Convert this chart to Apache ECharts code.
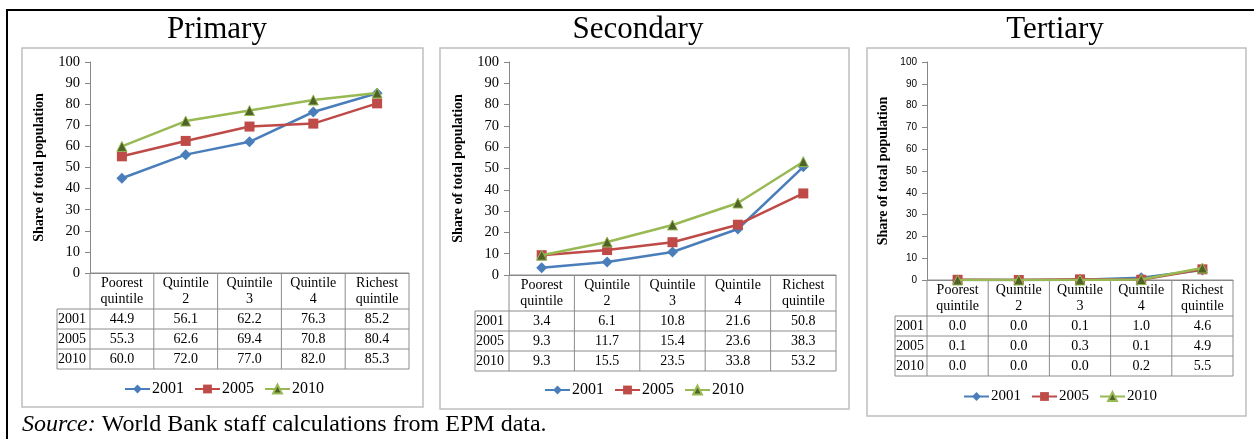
<!DOCTYPE html>
<html><head><meta charset="utf-8">
<script src="https://cdn.jsdelivr.net/npm/echarts@6/dist/echarts.min.js"></script>
<style>html,body{margin:0;padding:0;background:#fff}#c{width:1254px;height:439px}</style>
</head><body><div id="c"></div>
<script>
// ---- data ----
const categories = ['Poorest\nquintile', 'Quintile\n2', 'Quintile\n3', 'Quintile\n4', 'Richest\nquintile'];
const years = ['2001', '2005', '2010'];
const panelTitles = ['Primary', 'Secondary', 'Tertiary'];
const primary2001 = [44.9, 56.1, 62.2, 76.3, 85.2];
const primary2005 = [55.3, 62.6, 69.4, 70.8, 80.4];
const primary2010 = [60.0, 72.0, 77.0, 82.0, 85.3];
const secondary2001 = [3.4, 6.1, 10.8, 21.6, 50.8];
const secondary2005 = [9.3, 11.7, 15.4, 23.6, 38.3];
const secondary2010 = [9.3, 15.5, 23.5, 33.8, 53.2];
const tertiary2001 = [0.0, 0.0, 0.1, 1.0, 4.6];
const tertiary2005 = [0.1, 0.0, 0.3, 0.1, 4.9];
const tertiary2010 = [0.0, 0.0, 0.0, 0.2, 5.5];
const yAxisName = 'Share of total population';
const yMin = 0, yMax = 100, yStep = 10;
const sourceLabel = 'Source:';
const sourceText = 'World Bank staff calculations from EPM data.';

const panelData = [
  [primary2001, primary2005, primary2010],
  [secondary2001, secondary2005, secondary2010],
  [tertiary2001, tertiary2005, tertiary2010]
];

// ---- layout / style ----
const SERIF = '"Liberation Serif","Times New Roman",serif';
const SANS = '"Liberation Sans",Arial,sans-serif';
const grids = [
  {left: 90, top: 62, width: 319, height: 211},
  {left: 509, top: 62, width: 327, height: 213},
  {left: 927, top: 62, width: 306, height: 218}
];
const boxes = [[22, 48, 423, 407], [440, 48, 849, 409], [867, 48, 1246, 416]];
const titleX = [217, 638, 1055];
const legendPos = [[124, 381], [544, 382], [963, 389]];
const nameGaps = [44, 44, 37];
const rowLabelW = [33, 34, 32];
const tickFont = [{fontFamily: SERIF, fontSize: 14.5}, {fontFamily: SERIF, fontSize: 14.5}, {fontFamily: SANS, fontSize: 10}];
const lineColors = ['#4a7ebb', '#be4b48', '#98b954'];
const markerColors = ['#4a7ebb', '#be4b48', '#4f6228'];
const symbols = ['diamond', 'rect', 'triangle'];
const symbolSizes = [11, 10, 10];
const AXIS = '#868686';
const TABLE = '#8c8c8c';
const TF = '14px ' + SERIF;

const chart = echarts.init(document.getElementById('c'), null, {renderer: 'canvas'});

const xAxes = [], yAxes = [], series = [], legends = [];
grids.forEach((g, i) => {
  xAxes.push({
    type: 'category', gridIndex: i, data: categories, boundaryGap: true,
    axisLine: {show: true, lineStyle: {color: AXIS, width: 1}},
    axisTick: {show: false}, axisLabel: {show: false}, splitLine: {show: false}
  });
  yAxes.push({
    type: 'value', gridIndex: i, min: yMin, max: yMax, interval: yStep,
    name: yAxisName, nameLocation: 'middle', nameGap: nameGaps[i], nameRotate: 90,
    nameTextStyle: {fontFamily: SERIF, fontSize: 14, fontWeight: 'bold', color: '#000'},
    axisLine: {show: true, lineStyle: {color: AXIS, width: 1}},
    axisTick: {show: true, length: 5, lineStyle: {color: AXIS}},
    axisLabel: Object.assign({color: '#000', margin: 10}, tickFont[i]),
    splitLine: {show: false}
  });
  years.forEach((y, k) => {
    series.push({
      name: y, type: 'line', xAxisIndex: i, yAxisIndex: i,
      data: panelData[i][k],
      symbol: symbols[k], symbolSize: symbolSizes[k],
      lineStyle: {color: lineColors[k], width: 2.5},
      itemStyle: {color: markerColors[k], borderColor: lineColors[k], borderWidth: k === 2 ? 1 : 0},
      emphasis: {disabled: true}, animation: false, z: 3 + k
    });
  });
  legends.push({
    data: years, left: legendPos[i][0], top: legendPos[i][1], orient: 'horizontal', padding: 0,
    itemWidth: 25, itemHeight: 11, itemGap: 10,
    textStyle: {fontFamily: SERIF, fontSize: i === 2 ? 15 : 16, color: '#000', padding: [0, 0, 0, -3]},
    selectedMode: false
  });
});

chart.setOption({
  animation: false,
  backgroundColor: '#fff',
  grid: grids,
  xAxis: xAxes,
  yAxis: yAxes,
  legend: legends,
  series: series
});

// ---- frames, titles, tables (positions from the library's scales) ----
const gr = [];
gr.push({type: 'line', shape: {x1: 7, y1: 10, x2: 1254, y2: 10}, style: {stroke: '#000', lineWidth: 2}});
gr.push({type: 'line', shape: {x1: 7, y1: 9, x2: 7, y2: 439}, style: {stroke: '#000', lineWidth: 2}});
boxes.forEach(b => {
  gr.push({type: 'rect', shape: {x: b[0], y: b[1], width: b[2] - b[0], height: b[3] - b[1]},
    style: {fill: null, stroke: '#bfbfbf', lineWidth: 1.5}, z: 0});
});
panelTitles.forEach((t, i) => {
  gr.push({type: 'text', x: titleX[i], y: 30, style: {text: t, font: '31px ' + SERIF, fill: '#000', align: 'center', verticalAlign: 'middle'}});
});
gr.push({type: 'text', x: 22, y: 437, style: {
  text: '{i|' + sourceLabel + '} ' + sourceText,
  font: '24px ' + SERIF, fill: '#000', verticalAlign: 'bottom',
  rich: {i: {fontStyle: 'italic', fontFamily: SERIF, fontSize: 24}}
}});

const headerH = 36, rowH = 20;
grids.forEach((g, i) => {
  const centers = categories.map((c, j) => chart.convertToPixel({xAxisIndex: i}, j));
  const band = centers[1] - centers[0];
  const x0 = centers[0] - band / 2;
  const xEnd = x0 + band * categories.length;
  const y0 = chart.convertToPixel({yAxisIndex: i}, yMin);
  const yH = y0 + headerH;
  const yEndT = yH + rowH * years.length;
  const xl = x0 - rowLabelW[i];
  const ls = {stroke: TABLE, lineWidth: 1};
  gr.push({type: 'line', shape: {x1: x0, y1: y0, x2: xEnd, y2: y0}, style: ls, z: 1});
  for (let r = 0; r <= years.length; r++) {
    const yy = yH + r * rowH;
    gr.push({type: 'line', shape: {x1: xl, y1: yy, x2: xEnd, y2: yy}, style: ls, z: 1});
  }
  for (let j = 0; j <= categories.length; j++) {
    const xx = x0 + j * band;
    gr.push({type: 'line', shape: {x1: xx, y1: y0, x2: xx, y2: yEndT}, style: ls, z: 1});
  }
  gr.push({type: 'line', shape: {x1: xl, y1: yH, x2: xl, y2: yEndT}, style: ls, z: 1});
  categories.forEach((c, j) => {
    gr.push({type: 'text', x: centers[j], y: y0 + headerH / 2,
      style: {text: c, font: TF, lineHeight: 16, fill: '#000', align: 'center', verticalAlign: 'middle'}});
  });
  years.forEach((yr, k) => {
    const yc = yH + rowH * k + rowH / 2;
    gr.push({type: 'text', x: xl + 1, y: yc,
      style: {text: yr, font: TF, fill: '#000', align: 'left', verticalAlign: 'middle'}});
    panelData[i][k].forEach((v, j) => {
      gr.push({type: 'text', x: centers[j], y: yc,
        style: {text: v.toFixed(1), font: TF, fill: '#000', align: 'center', verticalAlign: 'middle'}});
    });
  });
});

chart.setOption({graphic: gr});
</script>
</body></html>
